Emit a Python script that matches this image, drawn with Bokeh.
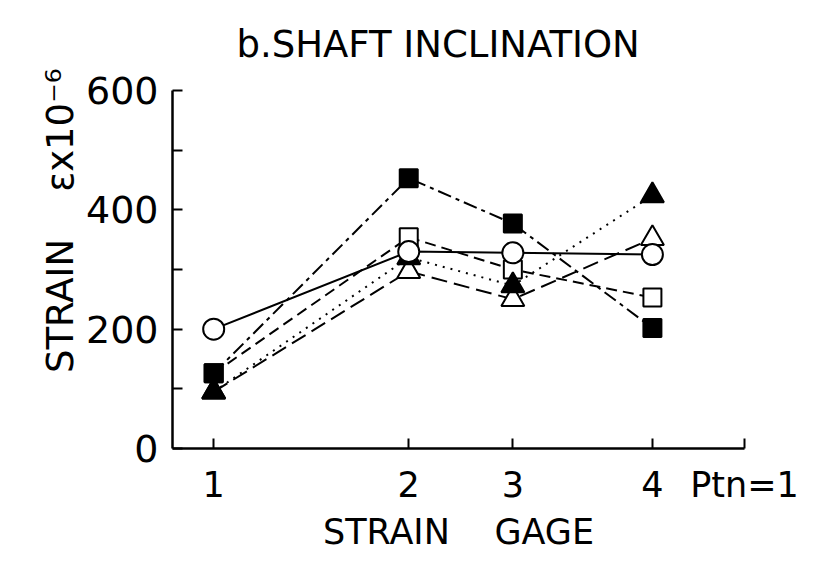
from bokeh.plotting import figure
from bokeh.models import FixedTicker, Title
from bokeh.embed import file_html
from bokeh.resources import INLINE

FONT = "DejaVu Sans"
GAP = "\u00a0" * 4  # wide word gap that SVG will not collapse

# Strain gage positions along the shaft (mm) and their labels
gage_pos = [72, 413, 595, 839]
gage_labels = ["1", "2", "3", "4"]
axis_end = 1000
axis_end_label = "Ptn=1"

# Measured strain (x10^-6) at each gage, one list per loading case
strain_open_circle = [200, 330, 328, 325]
strain_filled_square = [126, 453, 377, 202]
strain_open_square = [126, 354, 300, 253]
strain_filled_triangle = [95, 320, 273, 424]
strain_open_triangle = [95, 297, 250, 352]

y_major = [0, 200, 400, 600]
y_minor = [100, 300, 500]

p = figure(
    frame_width=572, frame_height=358,
    min_border_left=172, min_border_right=93,
    min_border_top=90, min_border_bottom=125,
    x_range=(0, axis_end), y_range=(0, 600),
    output_backend="svg", toolbar_location=None,
)
p.outline_line_color = None
p.background_fill_color = "white"
p.border_fill_color = "white"
p.xgrid.visible = False
p.ygrid.visible = False

# Axes: ticks point inwards
for ax in (p.xaxis, p.yaxis):
    ax.axis_line_color = "black"
    ax.axis_line_width = 2.5
    ax.major_tick_line_color = "black"
    ax.major_tick_line_width = 2
    ax.major_tick_in = 10
    ax.major_tick_out = 0
    ax.minor_tick_line_color = "black"
    ax.minor_tick_line_width = 2
    ax.minor_tick_in = 10
    ax.minor_tick_out = 0
    ax.major_label_text_font = FONT
    ax.major_label_text_color = "black"

x_ticks = gage_pos + [axis_end]
p.xaxis.ticker = FixedTicker(ticks=x_ticks)
p.xaxis.major_label_overrides = dict(zip(x_ticks, gage_labels + [axis_end_label]))
p.xaxis.major_label_text_font_size = "35px"
p.xaxis.major_label_standoff = 16

p.yaxis.ticker = FixedTicker(ticks=y_major, minor_ticks=y_minor)
p.yaxis.major_label_text_font_size = "38px"
p.yaxis.major_label_standoff = 14

series = [
    # (values, marker, fill, size, dash)
    (strain_open_triangle, "triangle", "white", 23, "16 7"),
    (strain_open_square, "square", "white", 18, "11 6"),
    (strain_filled_triangle, "triangle", "black", 23, "2 6"),
    (strain_open_circle, "circle", "white", 21, "solid"),
    (strain_filled_square, "square", "black", 18, "14 5 4 5"),
]

for vals, _, _, _, dash in series:
    p.line(gage_pos, vals, line_color="black", line_width=2, line_dash=dash)

for vals, marker, fill, size, _ in series:
    p.scatter(gage_pos, vals, marker=marker, size=size,
              fill_color=fill, line_color="black", line_width=2)

# Title above the plot
p.title.text = "b.SHAFT INCLINATION"
p.title.align = "left"
p.title.offset = 64
p.title.vertical_align = "top"
p.title.standoff = 45
p.title.text_font = FONT
p.title.text_font_size = "37px"
p.title.text_font_style = "normal"
p.title.text_color = "black"

# Axis titles
p.add_layout(Title(text="STRAIN" + GAP + "GAGE", align="center", vertical_align="top",
                   standoff=8, text_font=FONT, text_font_size="35px",
                   text_font_style="normal", text_color="black"), "below")

p.add_layout(Title(text="STRAIN" + GAP + "\u03b5x10\u207b\u2076", align="right", offset=-22,
                   vertical_align="bottom", standoff=2, text_font=FONT,
                   text_font_size="37px", text_font_style="normal",
                   text_color="black"), "left")

open("out.html", "w").write(file_html(p, INLINE))
